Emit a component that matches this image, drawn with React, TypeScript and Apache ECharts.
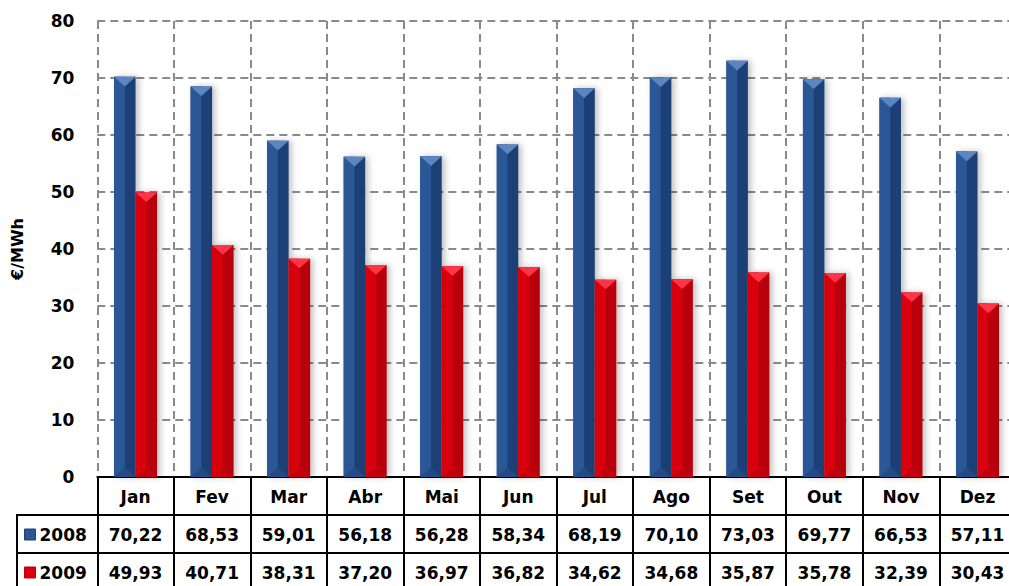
import React, { useEffect, useRef } from "react";
import * as echarts from "echarts";

const months = ["Jan", "Fev", "Mar", "Abr", "Mai", "Jun", "Jul", "Ago", "Set", "Out", "Nov", "Dez"];
const values2008 = [70.22, 68.53, 59.01, 56.18, 56.28, 58.34, 68.19, 70.1, 73.03, 69.77, 66.53, 57.11];
const values2009 = [49.93, 40.71, 38.31, 37.2, 36.97, 36.82, 34.62, 34.68, 35.87, 35.78, 32.39, 30.43];
const seriesNames = ["2008", "2009"];
const yTicks = { min: 0, max: 80, interval: 10 };

const FONT = "DejaVu Sans";
const fmt = (v: number) => v.toFixed(2).replace(".", ",");

const palettes = [
  { left: "#2b5797", right: "#1f4176", top: "#5b86c2", bottom: "#234a85" },
  { left: "#d8000c", right: "#b8000e", top: "#ff3547", bottom: "#c4000e" },
];

function makeRender(si: number) {
  const pal = palettes[si];
  return (params: any, api: any) => {
    const idx = api.value(0);
    const val = api.value(1);
    const top = api.coord([idx, val]);
    const base = api.coord([idx, 0]);
    const band = api.size([1, 0])[0];
    const w = band * 0.281;
    const xl = si === 0 ? top[0] - w : top[0];
    const xr = xl + w;
    const xc = (xl + xr) / 2;
    const yt = top[1];
    const yb = base[1];
    const tri = Math.min(w * 0.45, (yb - yt) / 2);
    return {
      type: "group",
      children: [
        {
          type: "rect",
          shape: { x: xl, y: yt, width: w, height: yb - yt },
          style: { fill: pal.right, shadowBlur: 6, shadowOffsetX: 3, shadowOffsetY: 0, shadowColor: "rgba(0,0,0,0.25)" },
        },
        {
          type: "rect",
          shape: { x: xl, y: yt, width: w / 2, height: yb - yt },
          style: { fill: pal.left },
        },
        {
          type: "polygon",
          shape: { points: [[xl, yt], [xr, yt], [xc, yt + tri]] },
          style: { fill: pal.top },
        },
        {
          type: "polygon",
          shape: { points: [[xl, yb], [xr, yb], [xc, yb - tri]] },
          style: { fill: pal.bottom },
        },
      ],
    };
  };
}

export default function App() {
  const ref = useRef<HTMLDivElement>(null);
  useEffect(() => {
    document.body.style.margin = "0";
    const chart = echarts.init(ref.current!, null, { renderer: "svg" });
    const gridLeft = 97.3;
    const gridTop = 21;
    const gridBottomY = 477;
    const rowH = 38;
    const tableLeft = 17;
    const lineStyle = { color: "#000", width: 2 };
    const dash = { color: "#8a8a8a", width: 2, type: [8, 5] as any };
    const labelBase = { fontFamily: FONT, fontWeight: "bold" as const, fontSize: 17, color: "#000" };

    const tableAxis = (offset: number, data: string[], split: boolean) => ({
      type: "category" as const,
      data,
      position: "bottom" as const,
      offset,
      gridIndex: 0,
      boundaryGap: true,
      axisLine: { show: true, lineStyle, onZero: false },
      axisTick: { show: true, length: rowH, interval: 0, lineStyle },
      axisLabel: { ...labelBase, interval: 0, margin: rowH / 2 + 0.5, verticalAlign: "middle" as const },
      splitLine: { show: split, interval: 0, lineStyle: dash },
    });

    chart.setOption({
      animation: false,
      backgroundColor: "#fff",
      grid: {
        left: gridLeft,
        top: gridTop,
        right: -6.8,
        bottom: 586 - gridBottomY,
        containLabel: false,
        outerBoundsMode: "none",
      },
      xAxis: [
        tableAxis(0, months, true),
        tableAxis(rowH, values2008.map(fmt), false),
        tableAxis(rowH * 2, values2009.map(fmt), false),
      ],
      yAxis: {
        type: "value",
        min: yTicks.min,
        max: yTicks.max,
        interval: yTicks.interval,
        name: "€/MWh",
        nameLocation: "middle",
        nameGap: 72,
        nameRotate: 90,
        nameTextStyle: { fontFamily: FONT, fontWeight: "bold", fontSize: 16, color: "#000" },
        axisLine: { show: false },
        axisTick: { show: false },
        axisLabel: { ...labelBase, margin: 23 },
        splitLine: { show: true, lineStyle: dash },
      },
      legend: {
        orient: "vertical",
        left: 24,
        top: 525.5,
        height: 120,
        padding: 0,
        itemGap: 20,
        itemWidth: 11,
        itemHeight: 11,
        icon: "rect",
        textStyle: { ...labelBase, lineHeight: 18, padding: [0, 0, 0, -1] },
        data: seriesNames.map((n, i) => ({ name: n, itemStyle: { color: palettes[i].left, borderColor: palettes[i].right, borderWidth: 1 } })),
      },
      graphic: [
        { type: "line", shape: { x1: tableLeft, y1: gridBottomY + rowH, x2: gridLeft, y2: gridBottomY + rowH }, style: { stroke: "#000", lineWidth: 2 } },
        { type: "line", shape: { x1: tableLeft, y1: gridBottomY + rowH * 2, x2: gridLeft, y2: gridBottomY + rowH * 2 }, style: { stroke: "#000", lineWidth: 2 } },
        { type: "line", shape: { x1: tableLeft, y1: gridBottomY + rowH - 1, x2: tableLeft, y2: 600 }, style: { stroke: "#000", lineWidth: 2 } },
      ],
      series: [values2008, values2009].map((vals, si) => ({
        type: "custom",
        name: seriesNames[si],
        xAxisIndex: 0,
        renderItem: makeRender(si),
        encode: { x: 0, y: 1 },
        itemStyle: { color: palettes[si].left },
        data: vals.map((v, i) => [i, v]),
        z: 3,
      })),
    });
    return () => chart.dispose();
  }, []);
  return <div ref={ref} style={{ width: 1009, height: 586 }} />;
}
